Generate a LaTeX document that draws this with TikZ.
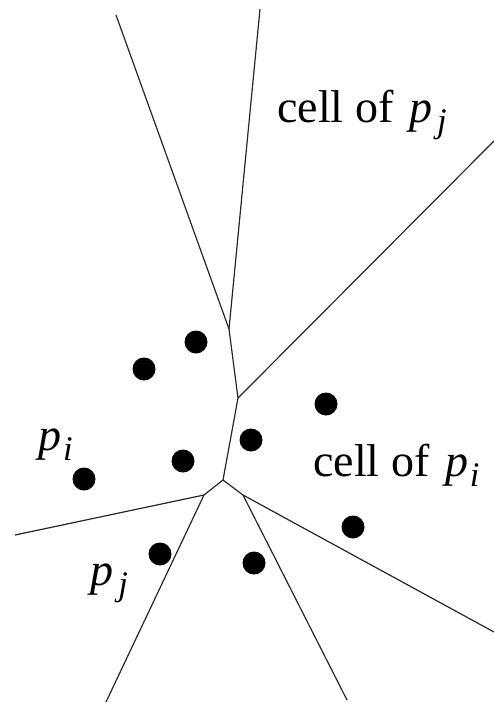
\documentclass[tikz,border=0pt]{standalone}
\usepackage{fontspec}
\setmainfont{Liberation Serif}
\usepackage{graphicx}
\newcommand{\vsub}[3][0.1em]{\kern0.1em{\itshape #2}\kern#1\raisebox{-0.22em}{\scalebox{0.75}{\itshape #3}}}
\begin{document}
\begin{tikzpicture}[x=1pt,y=-1pt,
  edge/.style={line width=1.2pt,black!85},
  site/.style={circle,fill=black,inner sep=0pt,minimum size=23pt},
  lbl/.style={inner sep=0pt,anchor=base west,font=\fontsize{46}{48}\selectfont}]
\useasboundingbox (0,0) rectangle (494,705);
% Voronoi vertices
\coordinate (v1) at (229,329);
\coordinate (v2) at (238,398);
\coordinate (v3) at (223,480);
\coordinate (v4) at (204,495);
\coordinate (v5) at (243,495);
% free ends
\coordinate (e1) at (116,15);
\coordinate (e2) at (260,9);
\coordinate (e3) at (494,141);
\coordinate (e4) at (15,535);
\coordinate (e5) at (106,702);
\coordinate (e6) at (347,700);
\coordinate (e7) at (494,632);
\draw[edge] (e1) -- (v1);
\draw[edge] (e2) -- (v1);
\draw[edge] (v1) -- (v2);
\draw[edge] (v2) -- (e3);
\draw[edge] (v2) -- (v3);
\draw[edge] (v3) -- (v4);
\draw[edge] (v4) -- (e4);
\draw[edge] (v4) -- (e5);
\draw[edge] (v3) -- (v5);
\draw[edge] (v5) -- (e7);
\draw[edge] (v5) -- (e6);
% sites
\node[site] (s1) at (196,342) {};
\node[site] (s2) at (144,369) {};
\node[site] (s3) at (326,404) {};
\node[site] (s4) at (251,440) {};
\node[site] (s5) at (183,461) {};
\node[site] (s6) at (84,479) {};
\node[site] (s7) at (353,527) {};
\node[site] (s8) at (160,554) {};
\node[site] (s9) at (254,563) {};
% labels
\node[lbl] (l1) at (277,122) {cell of \vsub{p}{j}};
\node[lbl] (l2) at (313,476) {cell of \vsub[0.03em]{p}{i}};
\node[lbl] (l3) at (34,450) {\vsub[0.03em]{p}{i}};
\node[lbl] (l4) at (86,585) {\vsub{p}{j}};
\end{tikzpicture}
\end{document}
